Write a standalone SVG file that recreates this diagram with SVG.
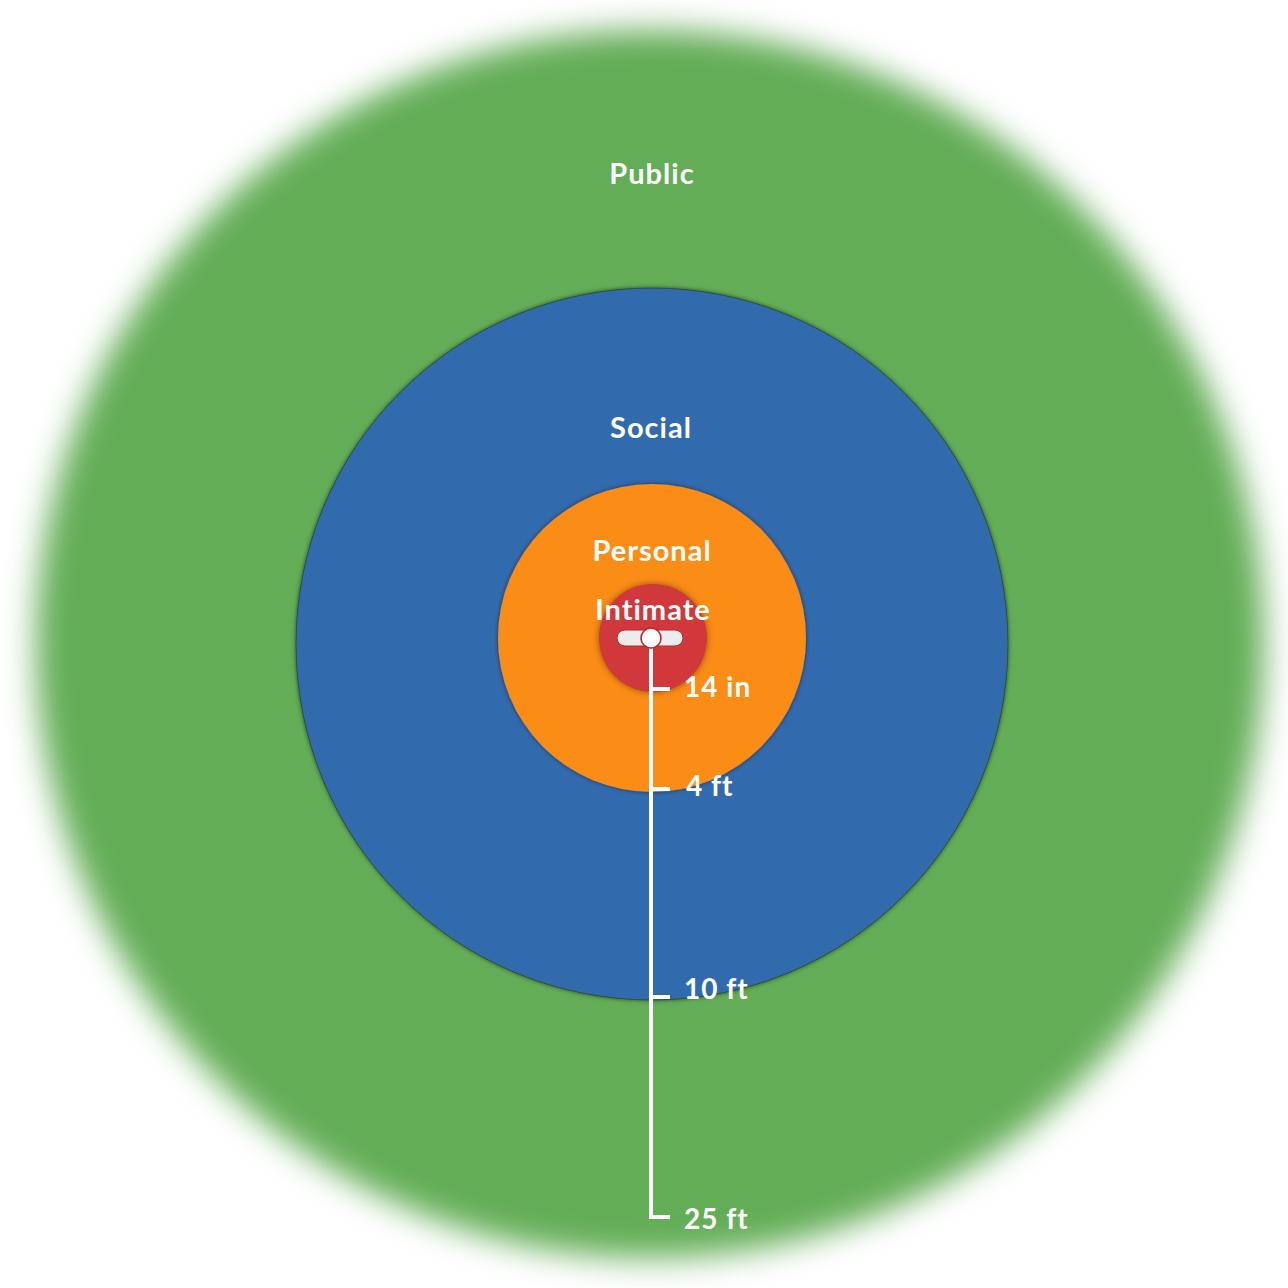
<svg xmlns="http://www.w3.org/2000/svg" width="1288" height="1288" viewBox="0 0 1288 1288">
<defs>
<filter id="blurEdge" x="-10%" y="-10%" width="120%" height="120%"><feGaussianBlur stdDeviation="16"/></filter>
<filter id="shadow" x="-10%" y="-10%" width="120%" height="120%"><feDropShadow dx="0" dy="0" stdDeviation="2" flood-color="#000" flood-opacity="0.55"/></filter>
<filter id="glow" x="-30%" y="-30%" width="160%" height="160%"><feDropShadow dx="0" dy="0" stdDeviation="3" flood-color="#7a3a00" flood-opacity="0.8"/></filter>
</defs>
<style>
.lbl{font-family:Lato,"Noto Sans","Liberation Sans",sans-serif;font-weight:700;font-size:29px;letter-spacing:1px;fill:#fff;text-anchor:middle}
.scl{font-family:Lato,"Noto Sans","Liberation Sans",sans-serif;font-weight:700;font-size:28px;letter-spacing:1px;fill:#fff}
.ln{stroke:#fff;stroke-width:4;fill:none}
</style>
<rect width="1288" height="1288" fill="#fff"/>
<g id="public">
<circle cx="650" cy="644" r="614" fill="#63ad57" filter="url(#blurEdge)"/>
<text class="lbl" x="652" y="184">Public</text>
</g>
<g id="social">
<circle cx="652" cy="644" r="356" fill="#316aae" stroke="#2c4f3a" stroke-width="1" filter="url(#shadow)"/>
<text class="lbl" x="651" y="438">Social</text>
</g>
<g id="personal">
<circle cx="652" cy="638" r="154" fill="#fb8c14" filter="url(#shadow)"/>
<text class="lbl" x="652" y="561">Personal</text>
</g>
<g id="intimate">
<circle cx="653" cy="638" r="54" fill="#d0393a" filter="url(#glow)"/>
<text class="lbl" x="653" y="620">Intimate</text>
</g>
<g id="scale">
<path class="ln" d="M651 640V1217H670M651 689H670M651 789H670M651 997H670"/>
<text class="scl" x="684" y="697">14 in</text>
<text class="scl" x="686" y="796">4 ft</text>
<text class="scl" x="684" y="999">10 ft</text>
<text class="scl" x="684" y="1229">25 ft</text>
</g>
<g id="slider">
<rect x="617" y="630" width="66" height="16" rx="8" fill="#ececec" stroke="#b8282a" stroke-width="1"/>
<circle cx="651" cy="638" r="10" fill="#fff" stroke="#b8282a" stroke-width="1.5"/>
</g>
</svg>
